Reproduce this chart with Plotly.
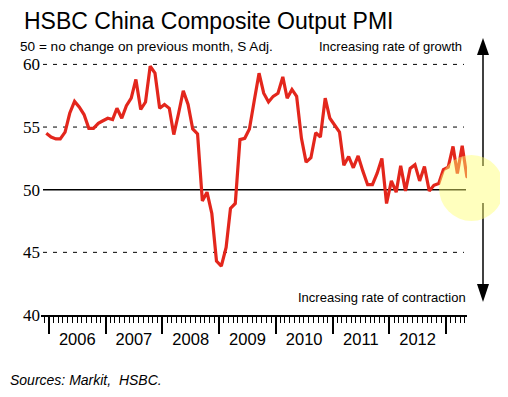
import pandas as pd
import plotly.graph_objects as go

# ---- data ----
start_month = "2005-11-15"
pmi_values = [
    54.5, 54.2,                                                            # 2005 Nov-Dec
    54.05, 54.05, 54.6, 56.1, 57.05, 56.6, 56.0, 54.9, 54.9, 55.3, 55.5, 55.7,   # 2006
    55.6, 56.5, 55.7, 56.7, 57.3, 58.8, 56.4, 57.0, 59.85, 59.3, 56.5, 56.8,     # 2007
    56.5, 54.4, 56.1, 57.9, 56.8, 54.85, 54.45, 49.1, 49.8, 48.1, 44.3, 43.9,    # 2008
    45.4, 48.5, 48.9, 54.0, 54.1, 54.85, 57.1, 59.3, 57.7, 57.0, 57.45, 57.7,    # 2009
    59.0, 57.3, 58.0, 57.45, 54.1, 52.2, 52.55, 54.55, 54.2, 57.3, 55.7, 55.2,   # 2010
    54.6, 51.95, 52.65, 51.75, 52.7, 51.5, 50.4, 50.4, 51.3, 52.5, 48.9, 50.7,   # 2011
    49.8, 51.9, 49.9, 51.7, 52.0, 50.7, 51.85, 49.9, 50.35, 50.5, 51.6, 51.8,    # 2012
    53.45, 51.3, 53.5, 51.05, 50.85,                                       # 2013 Jan-May
]
dates = pd.date_range(start_month, periods=len(pmi_values), freq="MS") + pd.Timedelta(days=14)

y_ticks = [40, 45, 50, 55, 60]
y_tick_text = ["40", "45", "50", "55", "60"]
dashed_levels = [45, 55, 60]
neutral_level = 50

title_text = "HSBC China Composite Output PMI"
subtitle_text = "50 = no change on previous month, S Adj."
growth_text = "Increasing rate of growth"
contraction_text = "Increasing rate of contraction"
source_text = "Sources: Markit,  HSBC."

# ---- layout geometry (screen pixels; page body adds an 8px offset) ----
OFF = 8
W, H = 508 - OFF, 397 - OFF
L, R, T, B = 41, 467, 39, 315   # plot area in screen px


def px(x):
    return (x - L) / (R - L)


def py(y):
    return (B - y) / (B - T)


fig = go.Figure()
fig.add_trace(go.Scatter(
    x=dates, y=pmi_values, mode="lines",
    line=dict(color="#E3261C", width=3.2), hoverinfo="x+y", showlegend=False,
))

shapes = []
for lv in dashed_levels:
    shapes.append(dict(type="line", xref="paper", yref="y", x0=px(43), x1=px(464),
                       y0=lv, y1=lv, line=dict(color="black", width=1, dash="4px,6px"),
                       layer="below"))
shapes.append(dict(type="line", xref="paper", yref="y", x0=px(43), x1=px(466),
                   y0=neutral_level, y1=neutral_level,
                   line=dict(color="black", width=1.5), layer="below"))

# arrow
ax = 483
shapes.append(dict(type="line", xref="paper", yref="paper", x0=px(ax), x1=px(ax),
                   y0=py(52), y1=py(166), line=dict(color="black", width=1.5)))
shapes.append(dict(type="line", xref="paper", yref="paper", x0=px(ax), x1=px(ax),
                   y0=py(203), y1=py(287), line=dict(color="black", width=1.5)))
shapes.append(dict(type="path", xref="paper", yref="paper",
                   path=f"M {px(ax-6)} {py(55)} L {px(ax)} {py(38)} L {px(ax+6)} {py(55)} Z",
                   fillcolor="black", line=dict(color="black", width=0)))
shapes.append(dict(type="path", xref="paper", yref="paper",
                   path=f"M {px(ax-6)} {py(284)} L {px(ax)} {py(302)} L {px(ax+6)} {py(284)} Z",
                   fillcolor="black", line=dict(color="black", width=0)))
# highlight circle
shapes.append(dict(type="circle", xref="paper", yref="paper",
                   x0=px(439), x1=px(504), y0=py(221), y1=py(155),
                   fillcolor="rgba(255,255,110,0.45)", line=dict(width=0), layer="above"))

SANS = "Liberation Sans, Arial, sans-serif"
annotations = [
    dict(text=title_text, x=px(22), y=py(21), xanchor="left", yanchor="middle",
         font=dict(family=SANS, size=23, color="black")),
    dict(text=subtitle_text, x=px(18), y=py(46), xanchor="left", yanchor="middle",
         font=dict(family=SANS, size=13.6, color="black")),
    dict(text=growth_text, x=px(464), y=py(46), xanchor="right", yanchor="middle",
         font=dict(family=SANS, size=13, color="black")),
    dict(text=contraction_text, x=px(468), y=py(297), xanchor="right", yanchor="middle",
         font=dict(family=SANS, size=13, color="black")),
    dict(text="<i>" + source_text + "</i>", x=px(8), y=py(380), xanchor="left", yanchor="middle",
         font=dict(family=SANS, size=14, color="black")),
]
for a in annotations:
    a.update(xref="paper", yref="paper", showarrow=False)

fig.update_layout(
    width=W, height=H, autosize=False,
    margin=dict(l=L - OFF, r=W - (R - OFF), t=T - OFF, b=H - (B - OFF)),
    paper_bgcolor="white", plot_bgcolor="white",
    shapes=shapes, annotations=annotations,
    xaxis=dict(
        type="date", range=["2005-11-11", "2013-05-16"],
        tick0="2006-01-01", dtick="M12", tickformat="%Y", ticklabelmode="period",
        ticks="outside", ticklen=17, tickwidth=1.5, tickcolor="black",
        ticklabelstandoff=-9,
        showline=True, linecolor="black", linewidth=2, showgrid=False, zeroline=False,
        tickfont=dict(family=SANS, size=16.5, color="black"),
        minor=dict(dtick="M1", tick0="2006-01-01", ticks="outside", ticklen=6,
                   tickwidth=1, tickcolor="black", showgrid=False),
    ),
    yaxis=dict(
        range=[40, 40 + (B - T) / 12.53], tickvals=y_ticks, ticktext=y_tick_text,
        showgrid=False, zeroline=False, showline=False, ticks="",
        tickfont=dict(family="Liberation Serif, Times New Roman, serif", size=17, color="black"),
    ),
)

fig.write_html("out.html")
